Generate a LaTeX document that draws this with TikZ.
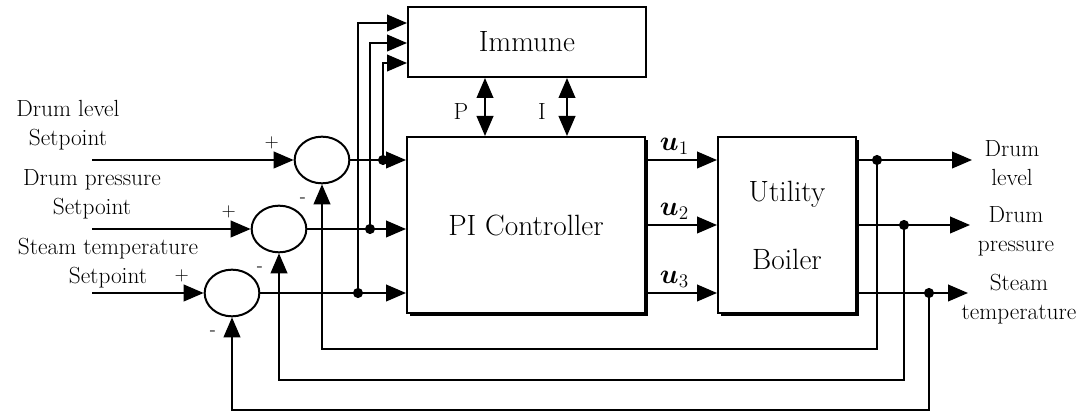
\documentclass[tikz,border=0pt]{standalone}
\usepackage{amsmath,amssymb}
\usepackage{bm}
\usetikzlibrary{arrows.meta,calc,shapes.geometric,shadows}
\tikzset{>={Triangle[length=15pt,width=12.5pt]}}

\begin{document}
\begin{tikzpicture}[x=0.75pt,y=-0.75pt,line width=1.5pt,
		block/.style={draw,line width=1.5pt,fill=white,inner sep=0pt,font=\fontsize{22}{26}\selectfont},
		shadowed/.style={drop shadow={shadow xshift=2pt,shadow yshift=-2pt,fill=black,opacity=1}},
		sumnode/.style={draw,ellipse,inner sep=0pt,minimum width=41pt,minimum height=35pt},
		lbl/.style={align=center,inner sep=0pt,font=\fontsize{17.5}{21.5}\selectfont},
		sgn/.style={inner sep=0pt,font=\fontsize{14}{16}\selectfont},
		ulbl/.style={font=\fontsize{21}{24}\selectfont}]
		\useasboundingbox (0,0) rectangle (1083,416);
		% blocks
		\node[block,minimum width=178.5pt,minimum height=52.5pt] (imm) at (527,42) {Immune};
		\node[block,shadowed,minimum width=178.5pt,minimum height=132pt] (pic) at (526,225) {PI Controller};
		\node[block,shadowed,align=center,font=\fontsize{22}{51}\selectfont,minimum width=103.5pt,minimum height=132pt] (boil) at (787,225) {Utility\\Boiler};
		% summing points
		\node[sumnode] (s1) at (322,160) {};
		\node[sumnode] (s2) at (279,229) {};
		\node[sumnode] (s3) at (232,293) {};
		% setpoints
		\node[lbl] (sp1) at (68,125) {Drum level\\Setpoint};
		\node[lbl] (sp2) at (92,194) {Drum pressure\\Setpoint};
		\node[lbl] (sp3) at (108,263) {Steam temperature\\Setpoint};
		\coordinate (in1) at (92,160);
		\coordinate (in2) at (92,229);
		\coordinate (in3) at (92,293);
		\foreach \i in {1,2,3} {
			\draw[->] (in\i) -- (s\i.west);
			\node[sgn] (p\i) at ($(s\i.west)+(-22,-17)$) {+};
			\node[sgn] (m\i) at ($(s\i.south)+(-19,16)$) {-};
			\draw[->] (s\i.east) -- (s\i.east -| pic.west);
		}
		% branch points to the immune block
		\coordinate (j1) at (383,160);
		\coordinate (j2) at (370,229);
		\coordinate (j3) at (358,293);
		\draw[->] (j3) |- ($(imm.west)+(0,-19)$);
		\draw[->] (j2) |- ($(imm.west)+(0,1)$);
		\draw[->] (j1) |- ($(imm.west)+(0,21)$);
		% gains P and I
		\coordinate (pp) at (485,0);
		\coordinate (ii) at (567,0);
		\draw[<->] (pp |- imm.south) -- (pp |- pic.north);
		\draw[<->] (ii |- imm.south) -- (ii |- pic.north);
		\node[lbl] (lp) at (461,112) {P};
		\node[lbl] (li) at (542,112) {I};
		% control signals
		\draw[->] (pic.east |- s1) -- node[ulbl,above,pos=0.4] (u1) {$\bm{u}_1$} (boil.west |- s1);
		\draw[->] (pic.east) -- node[ulbl,above,pos=0.4] (u2) {$\bm{u}_2$} (boil.west);
		\draw[->] (pic.east |- s3) -- node[ulbl,above,pos=0.4] (u3) {$\bm{u}_3$} (boil.west |- s3);
		% outputs
		\coordinate (o1) at (972,160);
		\coordinate (o2) at (970,225);
		\coordinate (o3) at (968,293);
		\draw[->] (boil.east |- s1) -- (o1);
		\draw[->] (boil.east) -- (o2);
		\draw[->] (boil.east |- s3) -- (o3);
		\node[lbl] (y1) at (1012,163) {Drum\\level};
		\node[lbl] (y2) at (1016,231) {Drum\\pressure};
		\node[lbl] (y3) at (1019,299) {Steam\\temperature};
		% feedback
		\coordinate (f1) at (877,160);
		\coordinate (f2) at (904,225);
		\coordinate (f3) at (929,293);
		\coordinate (b1) at (0,349);
		\coordinate (b2) at (0,380);
		\coordinate (b3) at (0,410);
		\foreach \i in {1,2,3}
			\draw[->] (f\i) |- (b\i -| s\i.south) -- (s\i.south);
		\foreach \p in {j1,j2,j3,f1,f2,f3}
			\fill (\p) circle (3.8pt);
	\end{tikzpicture}
\end{document}
